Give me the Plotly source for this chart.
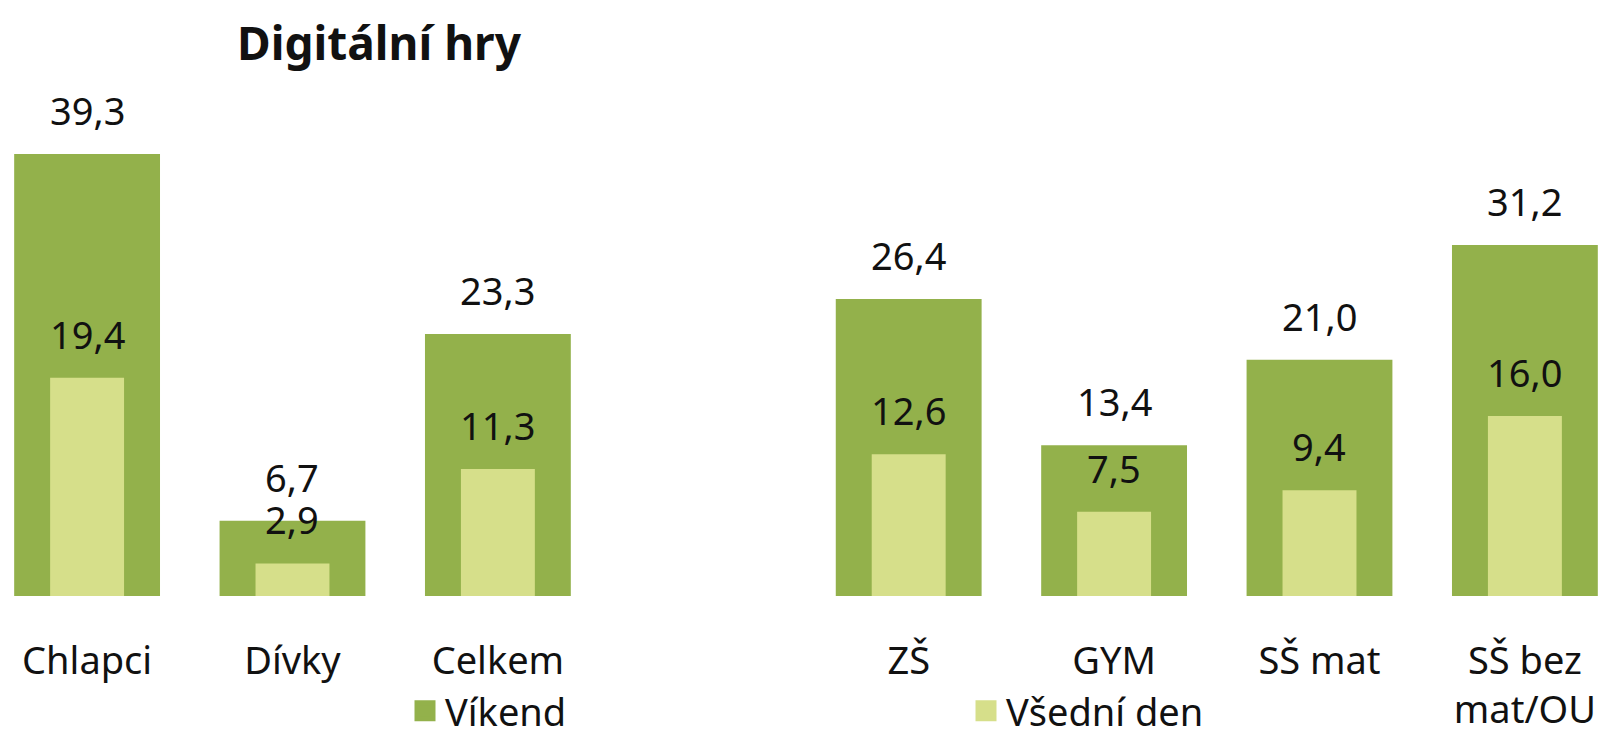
import plotly.graph_objects as go

# ---- data ----
categories = ["Chlapci", "Dívky", "Celkem", " ", "ZŠ", "GYM", "SŠ mat", "SŠ bez<br>mat/OU"]
vikend = [39.3, 6.7, 23.3, None, 26.4, 13.4, 21.0, 31.2]
vsedni_den = [19.4, 2.9, 11.3, None, 12.6, 7.5, 9.4, 16.0]
series_names = ["Víkend", "Všední den"]
title_text = "Digitální hry"

# ---- style ----
DARK = "#93B14B"
LIGHT = "#D6DF8A"
FONT = "Noto Sans"
TXT = "#111111"
LABEL_SIZE = 38


def fmt(v):
    return f"{v:.1f}".replace(".", ",")


fig = go.Figure()
fig.add_bar(x=categories, y=vikend, width=0.71, name=series_names[0],
            marker=dict(color=DARK, line=dict(width=0)), showlegend=False,
            hoverinfo="x+y")
fig.add_bar(x=categories, y=vsedni_den, width=0.36, name=series_names[1],
            marker=dict(color=LIGHT, line=dict(width=0)), showlegend=False,
            hoverinfo="x+y")

# legend entries
fig.add_scatter(x=[None], y=[None], mode="markers", name=series_names[0],
                marker=dict(symbol="square", size=24, color=DARK,
                            line=dict(color=DARK, width=5)),
                legend="legend")
fig.add_scatter(x=[None], y=[None], mode="markers", name=series_names[1],
                marker=dict(symbol="square", size=24, color=LIGHT,
                            line=dict(color=LIGHT, width=5)),
                legend="legend2")

annotations = []
for series in (vikend, vsedni_den):
    for cat, v in zip(categories, series):
        if v is None:
            continue
        annotations.append(dict(x=cat, y=v, text=fmt(v), showarrow=False,
                                yanchor="middle", yshift=44,
                                font=dict(family=FONT, size=LABEL_SIZE, color=TXT)))

PLOT_H = 734 - 138
legend_y = (PLOT_H - 711) / PLOT_H

fig.update_layout(
    width=1605, height=734,
    margin=dict(l=0, r=0, t=0, b=138, autoexpand=False),
    barmode="overlay",
    paper_bgcolor="white", plot_bgcolor="white",
    font=dict(family=FONT, size=LABEL_SIZE, color=TXT),
    title=dict(text="<b>" + title_text + "</b>", x=379 / 1605, xanchor="center",
               xref="paper", y=1 - 44 / 734, yref="container", yanchor="middle",
               font=dict(family=FONT, size=46, color=TXT)),
    xaxis=dict(type="category", range=[-0.424, 7.39], showgrid=False,
               showline=False, zeroline=False, ticks="", ticklabelstandoff=39,
               automargin=False,
               tickfont=dict(family=FONT, size=LABEL_SIZE, color=TXT),
               fixedrange=True),
    yaxis=dict(visible=False, range=[0, PLOT_H / 11.25], fixedrange=True,
               automargin=False),
    legend=dict(x=405 / 1605, xanchor="left", y=legend_y, yanchor="middle",
                orientation="h", bgcolor="rgba(0,0,0,0)", borderwidth=0,
                font=dict(family=FONT, size=LABEL_SIZE, color=TXT)),
    legend2=dict(x=966 / 1605, xanchor="left", y=legend_y, yanchor="middle",
                 orientation="h", bgcolor="rgba(0,0,0,0)", borderwidth=0,
                 font=dict(family=FONT, size=LABEL_SIZE, color=TXT)),
    annotations=annotations,
)

fig.write_html("out.html",
               config={"displayModeBar": False},
               post_script="document.body.style.margin='0';"
                           "document.body.style.overflow='hidden';")
